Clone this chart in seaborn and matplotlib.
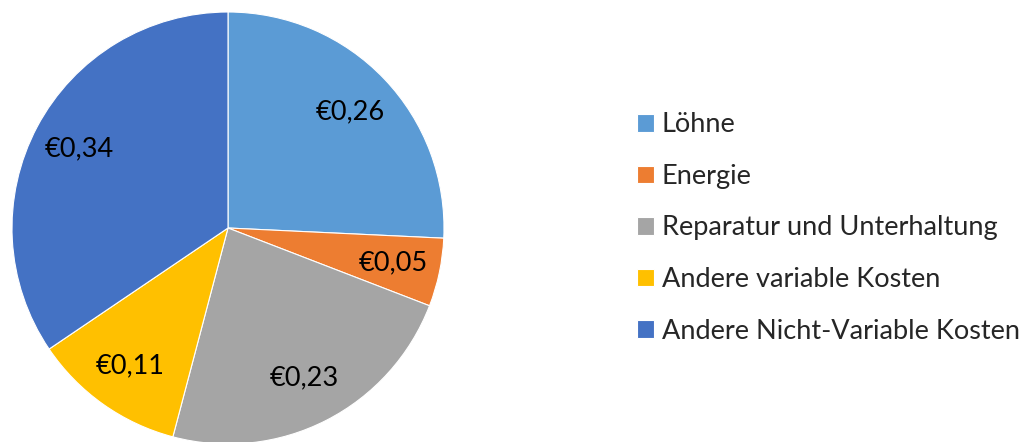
import seaborn as sns
import matplotlib.pyplot as plt

# cost shares per unit
categories = ["Löhne", "Energie", "Reparatur und Unterhaltung",
              "Andere variable Kosten", "Andere Nicht-Variable Kosten"]
values = [0.257, 0.051, 0.232, 0.114, 0.344]
colors = ["#5B9BD5", "#ED7D31", "#A5A5A5", "#FFC000", "#4472C4"]

sns.set_theme(style="white")
plt.rcParams["font.family"] = ["Lato", "DejaVu Sans"]

total = sum(values)

def euro(pct):
    return "€" + f"{pct * total / 100:.2f}".replace(".", ",")

fig = plt.figure(figsize=(10.26, 4.42), dpi=100)
# pie centre at (228, 228) px, radius 216 px
ax = fig.add_axes([12 / 1026, (442 - 228 - 216) / 442, 432 / 1026, 432 / 442])

wedges, texts, autotexts = ax.pie(
    values,
    colors=sns.color_palette(colors),
    startangle=90,
    counterclock=False,
    autopct=euro,
    pctdistance=0.78,
    wedgeprops={"linewidth": 0.8, "edgecolor": "white"},
    textprops={"fontsize": 19.5, "color": "black"},
)
ax.set_xlim(-1, 1)
ax.set_ylim(-1, 1)
ax.set_aspect("equal")

fig.legend(
    wedges, categories,
    loc="center left",
    bbox_to_anchor=(637 / 1026, 1 - 228 / 442),
    frameon=False,
    fontsize=19.5,
    handlelength=0.62,
    handleheight=0.62,
    handletextpad=0.3,
    labelspacing=0.98,
    borderpad=0,
    borderaxespad=0,
)

plt.savefig("out.png", dpi=100)
